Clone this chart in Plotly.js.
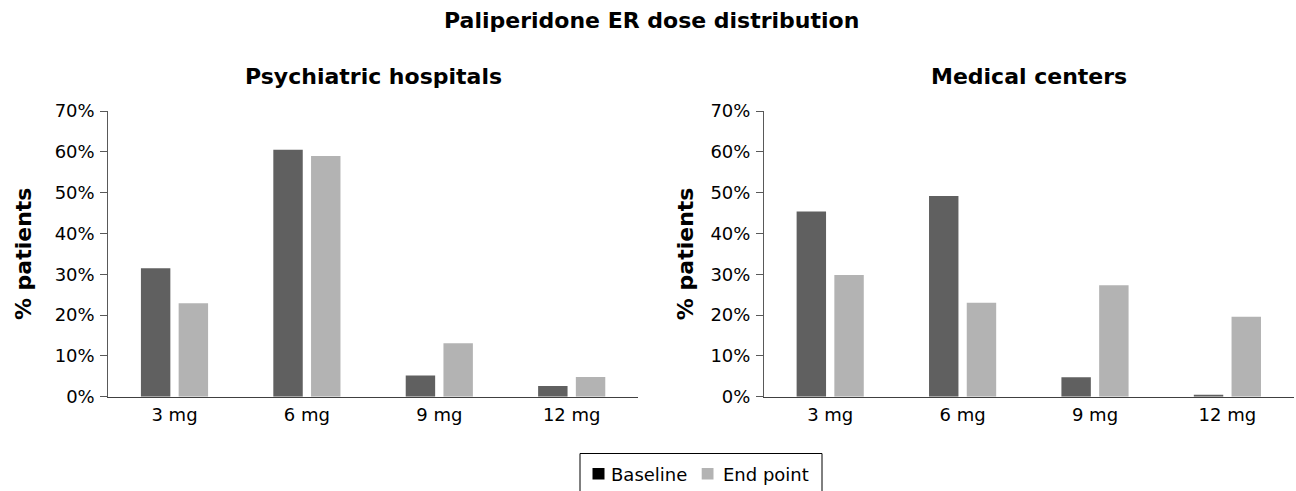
<!DOCTYPE html>
<html>
<head>
<meta charset="utf-8">
<script src="https://cdn.plot.ly/plotly-3.0.1.min.js"></script>
<style>html,body{margin:0;padding:0;background:#fff;}#chart{width:1296px;height:491px;}</style>
</head>
<body>
<div id="chart"></div>
<script>
// ---- data ----
const categories = ['3 mg', '6 mg', '9 mg', '12 mg'];
const psychBaseline = [31.5, 60.5, 5.2, 2.6];
const psychEndpoint = [22.9, 59.0, 13.1, 4.8];
const medBaseline = [45.4, 49.2, 4.75, 0.5];
const medEndpoint = [29.8, 23.0, 27.3, 19.6];
const seriesNames = ['Baseline', 'End point'];
const panelTitles = ['Psychiatric hospitals', 'Medical centers'];
const mainTitle = 'Paliperidone ER dose distribution';
const yTitle = '% patients';

// ---- style ----
const FONT = 'DejaVu Sans';
const DARK = '#606060';
const LIGHT = '#b3b3b3';
const W = 1296, H = 491;
const px = v => v / W;
const py = v => 1 - v / H;

const traces = [
  {type: 'bar', x: categories, y: psychBaseline, name: seriesNames[0], marker: {color: DARK}, xaxis: 'x', yaxis: 'y', showlegend: false},
  {type: 'bar', x: categories, y: psychEndpoint, name: seriesNames[1], marker: {color: LIGHT}, xaxis: 'x', yaxis: 'y', showlegend: false},
  {type: 'bar', x: categories, y: medBaseline, name: seriesNames[0], marker: {color: DARK}, xaxis: 'x2', yaxis: 'y2', showlegend: false},
  {type: 'bar', x: categories, y: medEndpoint, name: seriesNames[1], marker: {color: LIGHT}, xaxis: 'x2', yaxis: 'y2', showlegend: false}
];

const yDomain = [py(396.7), py(111)];
function yax(anchor, standoff) {
  return {
    domain: yDomain, anchor: anchor, range: [0, 70], dtick: 10, ticksuffix: '%',
    ticks: 'outside', ticklen: 7, tickwidth: 1, tickcolor: '#595959',
    showline: true, linecolor: '#595959', linewidth: 1,
    showgrid: false, zeroline: false, fixedrange: true, ticklabelstandoff: 2,
    tickfont: {family: FONT, size: 18, color: '#000'},
    title: {text: yTitle, font: {family: FONT, size: 22, color: '#000', weight: 'bold'}, standoff: standoff}
  };
}
function xax(domain, anchor) {
  return {
    domain: domain, anchor: anchor, type: 'category',
    showline: true, linecolor: '#404040', linewidth: 1,
    ticks: '', showgrid: false, zeroline: false, fixedrange: true, ticklabelstandoff: 2,
    tickfont: {family: FONT, size: 18, color: '#000'}
  };
}

const layout = {
  width: W, height: H,
  margin: {l: 0, r: 0, t: 0, b: 0},
  paper_bgcolor: '#fff', plot_bgcolor: '#fff',
  barmode: 'group', bargap: 0.43, bargroupgap: 0.22,
  showlegend: false,
  font: {family: FONT, color: '#000'},
  title: {text: '<b>' + mainTitle + '</b>', font: {family: FONT, size: 22, color: '#000'},
          x: px(651.7), xanchor: 'center', y: py(20.5), yanchor: 'middle', xref: 'paper', yref: 'paper'},
  xaxis: xax([px(108.3), px(637.9)], 'y'),
  yaxis: yax('x', 16),
  xaxis2: xax([px(764), px(1293.6)], 'y2'),
  yaxis2: yax('x2', 10),
  annotations: [
    {text: '<b>' + panelTitles[0] + '</b>', xref: 'paper', yref: 'paper', x: px(373), y: py(76.5), xanchor: 'center', yanchor: 'middle', showarrow: false, font: {family: FONT, size: 22, color: '#000'}},
    {text: '<b>' + panelTitles[1] + '</b>', xref: 'paper', yref: 'paper', x: px(1028.8), y: py(76.5), xanchor: 'center', yanchor: 'middle', showarrow: false, font: {family: FONT, size: 22, color: '#000'}},
    {text: seriesNames[0], xref: 'paper', yref: 'paper', x: px(609), y: py(474), xanchor: 'left', yanchor: 'middle', showarrow: false, font: {family: FONT, size: 18, color: '#000'}},
    {text: seriesNames[1], xref: 'paper', yref: 'paper', x: px(720.5), y: py(474), xanchor: 'left', yanchor: 'middle', showarrow: false, font: {family: FONT, size: 18, color: '#000'}}
  ],
  shapes: [
    {type: 'rect', xref: 'paper', yref: 'paper', x0: px(580), x1: px(822), y0: py(453.5), y1: py(500), line: {color: '#000', width: 1}, fillcolor: 'rgba(0,0,0,0)'},
    {type: 'rect', xref: 'paper', yref: 'paper', x0: px(592.5), x1: px(604.5), y0: py(468), y1: py(479.5), line: {width: 0}, fillcolor: '#000'},
    {type: 'rect', xref: 'paper', yref: 'paper', x0: px(701.7), x1: px(713.5), y0: py(468), y1: py(479.5), line: {width: 0}, fillcolor: LIGHT}
  ]
};

Plotly.newPlot('chart', traces, layout, {displayModeBar: false, staticPlot: true});
</script>
</body>
</html>
